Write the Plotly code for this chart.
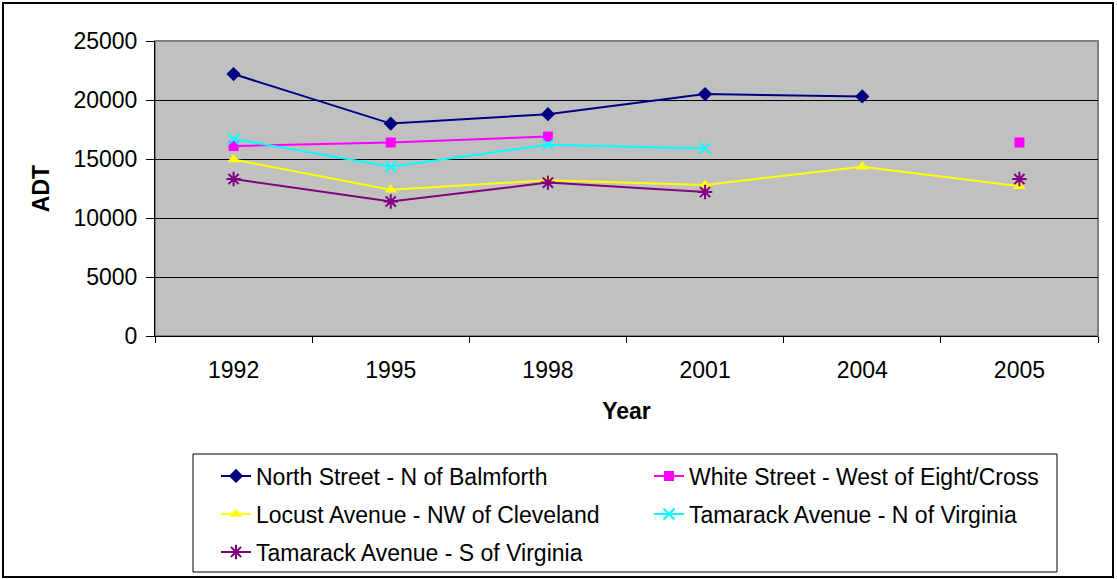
import plotly.graph_objects as go

years = ["1992", "1995", "1998", "2001", "2004", "2005"]
north_street = [22200, 18000, 18800, 20500, 20300, None]
white_street = [16100, 16400, 16900, None, None, 16400]
locust_avenue = [14950, 12400, 13200, 12800, 14350, 12700]
tamarack_n = [16700, 14350, 16200, 15900, None, None]
tamarack_s = [13300, 11400, 13000, 12200, None, 13300]

names = [
    "North Street - N of Balmforth",
    "White Street - West of Eight/Cross",
    "Locust Avenue - NW of Cleveland",
    "Tamarack Avenue - N of Virginia",
    "Tamarack Avenue - S of Virginia",
]
values = [north_street, white_street, locust_avenue, tamarack_n, tamarack_s]
colors = ["#000080", "#FF00FF", "#FFFF00", "#00FFFF", "#800080"]
symbols = ["diamond", "square", "triangle-up", "x-thin-open", "asterisk-open"]
sizes = [11, 10, 11, 11, 12]
mlw = [0, 0, 0, 2, 2]
legend_rows = ["legend", "legend", "legend2", "legend2", "legend3"]

fig = go.Figure()
for name, vals, color, sym, size, lw, lg in zip(names, values, colors, symbols, sizes, mlw, legend_rows):
    fig.add_trace(go.Scatter(
        x=years, y=vals, name=name, mode="lines+markers",
        connectgaps=False, legend=lg,
        line=dict(color=color, width=2),
        marker=dict(symbol=sym, size=size, color=color,
                    line=dict(color=color, width=lw)),
    ))

W, H = 1117, 579
L, R, T, B = 155, 1098, 41, 336
pw, ph = R - L, B - T

def px(x):
    return (x - L) / pw

def py(y):
    return (B - y) / ph

font = "Liberation Sans, Arial, sans-serif"
fs = 23

def leg(ycenter):
    return dict(
        orientation="h",
        x=px(216), y=py(ycenter), xanchor="left", yanchor="middle",
        borderwidth=0, bgcolor="rgba(0,0,0,0)",
        entrywidth=388, entrywidthmode="pixels",
        font=dict(size=fs, family=font, color="black"),
        traceorder="normal", itemwidth=30,
    )

fig.update_layout(
    width=W, height=H,
    margin=dict(l=L, r=W - R, t=T, b=H - B, autoexpand=False),
    paper_bgcolor="white",
    plot_bgcolor="#C0C0C0",
    font=dict(family=font, size=fs, color="black"),
    showlegend=True,
    legend=leg(476),
    legend2=leg(514),
    legend3=leg(552),
    xaxis=dict(
        type="category", range=[-0.5, 5.5],
        tickson="boundaries", ticks="outside", ticklen=6, tickcolor="black",
        showline=True, linecolor="black", linewidth=1,
        showgrid=False, tickfont=dict(size=fs),
        ticklabelstandoff=13,
        title=dict(text="<b>Year</b>", font=dict(size=fs), standoff=21),
    ),
    yaxis=dict(
        range=[0, 25000], dtick=5000, tick0=0, tickformat="d",
        ticks="outside", ticklen=8, tickcolor="black",
        showline=True, linecolor="black", linewidth=1,
        showgrid=True, gridcolor="black", gridwidth=1,
        zeroline=False, tickfont=dict(size=fs),
        ticklabelstandoff=4,
        title=dict(text="<b>ADT</b>", font=dict(size=fs), standoff=17),
    ),
    shapes=[
        dict(type="rect", xref="paper", yref="paper", x0=0, x1=1, y0=0, y1=1,
             line=dict(color="#808080", width=2), layer="below"),
        dict(type="rect", xref="paper", yref="paper",
             x0=px(3), x1=px(1113), y0=py(577), y1=py(3),
             line=dict(color="black", width=2), layer="below"),
        dict(type="rect", xref="paper", yref="paper",
             x0=px(193), x1=px(1057), y0=py(572), y1=py(454),
             line=dict(color="black", width=1), layer="below"),
    ],
)

fig.write_html("out.html", config={"displayModeBar": False},
               post_script="document.body.style.margin='0';")
